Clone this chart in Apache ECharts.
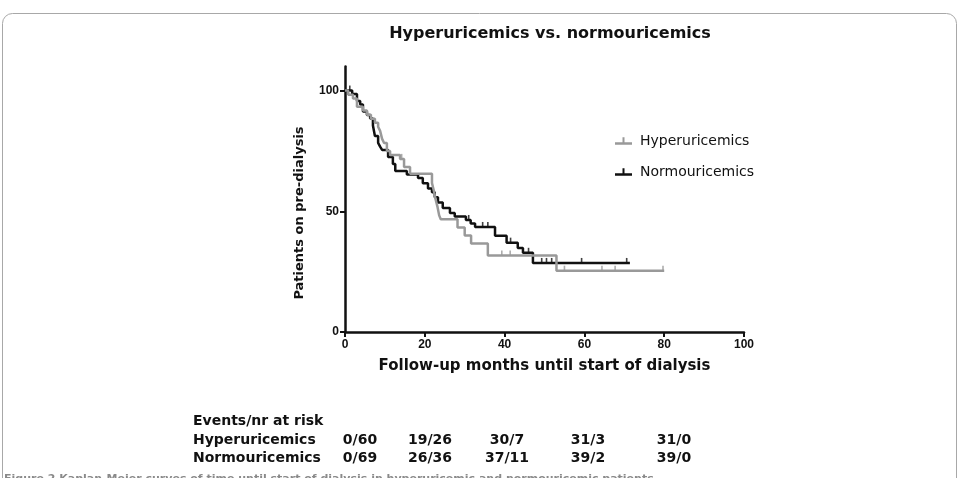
<!DOCTYPE html>
<html>
<head>
<meta charset="utf-8">
<title>Hyperuricemics vs. normouricemics</title>
<script src="https://cdn.jsdelivr.net/npm/echarts@6.0.0/dist/echarts.min.js"></script>
<style>
    html, body { margin: 0; padding: 0; background: #fff; }
    #main { width: 961px; height: 478px; }
</style>
</head>
<body>
<div id="main"></div>
<script>
    // Kaplan-Meier steps (months, % still pre-dialysis)
    var normoTimes = [0, 1.8, 3, 3.8, 4.5, 5.5, 6.3, 7, 7.5, 8.3, 8.8, 9.3, 10.8, 12, 12.6, 15.5, 18.3, 19.5, 20.8, 21.8, 22.5, 23.3, 24.5, 26.3, 27.5, 30.3, 31.5, 32.6, 37.6, 40.5, 43.3, 44.6, 47.1, 71.4];
    var normoSurv  = [100, 98.6, 95.7, 94.2, 91.3, 89.9, 88.4, 85.5, 81.2, 78.3, 76.8, 75.4, 72.5, 69.6, 66.7, 65.2, 63.8, 61.6, 59.4, 57.9, 55.8, 53.6, 51.4, 49.3, 47.8, 46.4, 44.9, 43.5, 39.9, 37.0, 34.8, 32.8, 28.6, 28.6];
    var normoCensored = [1.2, 31, 34.5, 35.8, 41.5, 46, 49.3, 50.5, 51.8, 59.3, 70.6];

    var hyperTimes = [0, 0.8, 2, 3, 4.5, 5.5, 6.5, 7.5, 8.3, 8.8, 9.3, 9.8, 10.5, 11.3, 13.8, 14.8, 16.3, 21.8, 22.3, 22.7, 23.2, 23.6, 24, 28.2, 30, 31.6, 35.8, 53, 80];
    var hyperSurv  = [100, 98.3, 96.7, 93.3, 91.7, 90, 88.3, 86.7, 85, 83.3, 80, 78.3, 75, 73.3, 71.7, 68.3, 65.5, 61.7, 58.3, 55, 51.7, 48.3, 46.7, 43.3, 40, 36.7, 31.7, 25.4, 25.4];
    var hyperCensored = [14.2, 39.3, 41.4, 55, 64.4, 67.7, 79.7];

    var xTicks = [0, 20, 40, 60, 80, 100];
    var yTicks = [0, 50, 100];

    // numbers at risk table
    var riskHeader = 'Events/nr at risk';
    var riskGroups = ['Hyperuricemics', 'Normouricemics'];
    var hyperRisk = ['0/60', '19/26', '30/7', '31/3', '31/0'];
    var normoRisk = ['0/69', '26/36', '37/11', '39/2', '39/0'];

    var GRAY = '#999999', BLACK = '#111111';
    var FONT = 'DejaVu Sans';

    function pairs(ts, ss) {
        return ts.map(function (t, i) { return [t, ss[i]]; });
    }
    // value of the step curve at a censoring time
    function atTime(ts, ss, t) {
        var v = ss[0];
        for (var i = 0; i < ts.length; i++) {
            if (ts[i] <= t) v = ss[i];
        }
        return [t, v];
    }

    var myChart = echarts.init(document.getElementById('main'));

    // risk table columns
    var colX = [360, 430, 507, 588, 674];
    var rowY = [421, 440, 458];
    var tableFont = 'bold 14px "' + FONT + '"';
    var graphics = [
        {
            type: 'rect', silent: true,
            shape: { x: 2.5, y: 13.5, width: 954, height: 540, r: 10 },
            style: { fill: 'none', stroke: '#a8a8a8', lineWidth: 1 }
        },
        {
            type: 'text', x: 300, y: 213, rotation: Math.PI / 2,
            style: { text: 'Patients on pre-dialysis', font: 'bold 13px "' + FONT + '"', fill: '#111', align: 'center', verticalAlign: 'middle' }
        },
        {
            type: 'text', x: 193, y: rowY[0],
            style: { text: riskHeader, font: tableFont, fill: '#111', align: 'left', verticalAlign: 'middle' }
        },
        {
            // caption below the figure, only its top edge is in the frame
            type: 'text', x: 4, y: 474,
            style: { text: 'Figure 2 Kaplan-Meier curves of time until start of dialysis in hyperuricemic and normouricemic patients.', font: 'bold 11px "' + FONT + '"', fill: '#8a8a8a', align: 'left', verticalAlign: 'top' }
        }
    ];
    [hyperRisk, normoRisk].forEach(function (row, r) {
        graphics.push({
            type: 'text', x: 193, y: rowY[r + 1],
            style: { text: riskGroups[r], font: tableFont, fill: '#111', align: 'left', verticalAlign: 'middle' }
        });
        row.forEach(function (txt, c) {
            graphics.push({
                type: 'text', x: colX[c], y: rowY[r + 1],
                style: { text: txt, font: tableFont, fill: '#111', align: 'center', verticalAlign: 'middle' }
            });
        });
    });

    var tickIcon = 'path://M0,6L17,6L17,8.5L0,8.5Z M7.5,1L9.5,1L9.5,6L7.5,6Z';

    var option = {
        animation: false,
        backgroundColor: '#fff',
        title: {
            text: 'Hyperuricemics vs. normouricemics',
            left: 545, top: 21, textAlign: 'center',
            textStyle: { fontFamily: FONT, fontSize: 16, fontWeight: 'bold', color: '#111' }
        },
        legend: {
            orient: 'vertical',
            left: 610, top: 129,
            itemWidth: 17, itemHeight: 8.5, itemGap: 17,
            textStyle: { fontFamily: FONT, fontSize: 14, color: '#111', padding: [0, 0, 0, 3] },
            data: [
                { name: 'Hyperuricemics', icon: tickIcon },
                { name: 'Normouricemics', icon: tickIcon }
            ]
        },
        grid: { left: 345, right: 217, top: 66.4, bottom: 146 },
        xAxis: {
            type: 'value', min: 0, max: 100, interval: 20,
            name: 'Follow-up months until start of dialysis',
            nameLocation: 'middle', nameGap: 27,
            nameTextStyle: { fontFamily: FONT, fontSize: 15, fontWeight: 'bold', color: '#111' },
            axisLine: { show: true, lineStyle: { color: '#111', width: 2.5 } },
            axisTick: { show: true, length: 5, customValues: xTicks, lineStyle: { color: '#111', width: 2 } },
            axisLabel: { margin: 7, customValues: xTicks, fontFamily: 'Liberation Sans', fontSize: 12, fontWeight: 'bold', color: '#111' },
            splitLine: { show: false }
        },
        yAxis: {
            type: 'value', min: 0, max: 110, interval: 50,
            axisLine: { show: true, lineStyle: { color: '#111', width: 2.5 } },
            axisTick: { show: true, length: 5, customValues: yTicks, lineStyle: { color: '#111', width: 2 } },
            axisLabel: { margin: 6, customValues: yTicks, fontFamily: 'Liberation Sans', fontSize: 12, fontWeight: 'bold', color: '#111' },
            splitLine: { show: false }
        },
        graphic: graphics,
        series: [
            {
                name: 'Normouricemics', type: 'line', step: 'end',
                showSymbol: false, z: 2,
                data: pairs(normoTimes, normoSurv),
                lineStyle: { color: BLACK, width: 2.5 },
                itemStyle: { color: BLACK }
            },
            {
                name: 'Hyperuricemics', type: 'line', step: 'end',
                showSymbol: false, z: 3,
                data: pairs(hyperTimes, hyperSurv),
                lineStyle: { color: GRAY, width: 2.5 },
                itemStyle: { color: GRAY }
            },
            {
                name: 'Normouricemics censored', type: 'scatter',
                symbol: 'rect', symbolSize: [1.6, 5], symbolOffset: [0, -2.5], z: 4,
                data: normoCensored.map(function (t) { return atTime(normoTimes, normoSurv, t); }),
                itemStyle: { color: BLACK }
            },
            {
                name: 'Hyperuricemics censored', type: 'scatter',
                symbol: 'rect', symbolSize: [1.6, 5], symbolOffset: [0, -2.5], z: 4,
                data: hyperCensored.map(function (t) { return atTime(hyperTimes, hyperSurv, t); }),
                itemStyle: { color: GRAY }
            }
        ]
    };

    myChart.setOption(option);
</script>
</body>
</html>
